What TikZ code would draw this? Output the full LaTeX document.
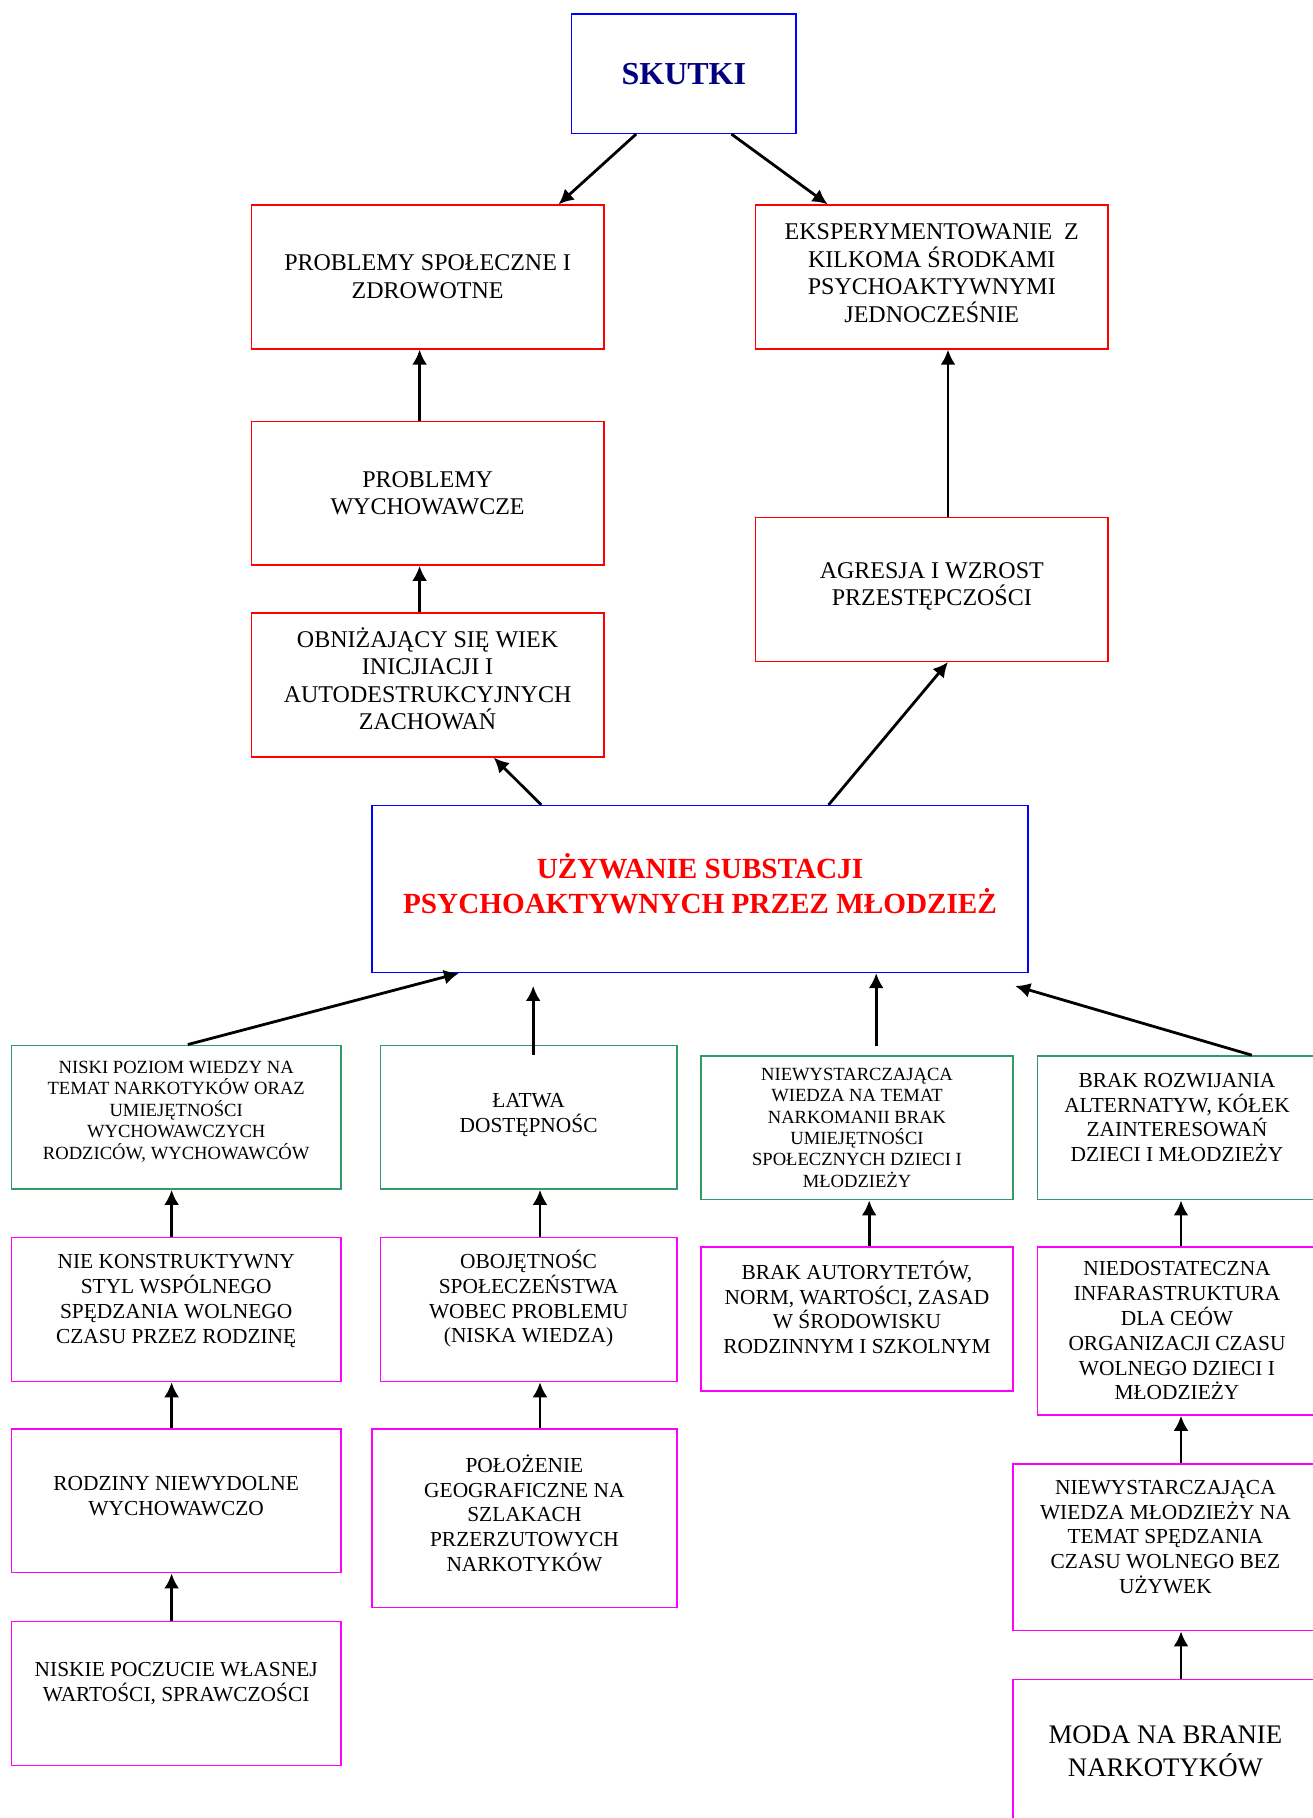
\documentclass[tikz,border=0pt]{standalone}
\usepackage{fontspec}
\setmainfont{Liberation Serif}
\usetikzlibrary{arrows.meta}
\definecolor{seagreen}{RGB}{51,153,102}
\definecolor{navyblue}{RGB}{0,0,128}
\definecolor{pinkline}{RGB}{255,0,255}
\definecolor{redline}{RGB}{255,0,0}
\definecolor{blueline}{RGB}{0,0,255}

\begin{document}
\begin{tikzpicture}[>={Latex[length=7.5pt,width=7.5pt]}]
       \tikzset{effect/.style={rectangle, draw=redline, line width=0.75pt, minimum width=176.2pt,
                minimum height=71.9pt, inner sep=2pt, align=center, font=\fontsize{12}{13.8}\selectfont}}

       \tikzset{core/.style={rectangle, draw=blueline, line width=0.75pt, inner sep=2pt, align=center}}

       \tikzset{cause/.style={rectangle, draw=seagreen, line width=0.75pt, minimum height=71.9pt,
                inner sep=2pt, align=center, font=\fontsize{10.7}{12.4}\selectfont}}
       \tikzset{root/.style={cause, draw=pinkline}}
       \tikzset{small/.style={font=\fontsize{9.3}{10.7}\selectfont}}
       \tikzset{link/.style={->, line width=1.4pt}}

        \useasboundingbox (0,0) rectangle (656pt,-909pt);

        \node[core, minimum width=112.4pt, minimum height=59.7pt, text=navyblue,
              font=\fontsize{16}{19}\selectfont\bfseries] (skutki) at (341.9pt,-36.8pt) {SKUTKI};
        \node[effect] (spoleczne) at (213.8pt,-138.5pt) {PROBLEMY SPOŁECZNE I\\ZDROWOTNE};
        \node[effect, text depth=4pt] (eksperyment) at (465.9pt,-138.5pt) {EKSPERYMENTOWANIE\ \ Z\\KILKOMA ŚRODKAMI\\PSYCHOAKTYWNYMI\\JEDNOCZEŚNIE};
        \node[effect, node distance=108.1pt, below of=spoleczne] (wychowawcze) {PROBLEMY\\WYCHOWAWCZE};
        \node[effect, text depth=6.4pt, node distance=95.9pt, below of=wychowawcze] (wiek) {OBNIŻAJĄCY SIĘ WIEK\\INICJIACJI I\\AUTODESTRUKCYJNYCH\\ZACHOWAŃ};
        \node[effect, text depth=5.2pt, node distance=156.2pt, below of=eksperyment] (agresja) {AGRESJA I WZROST\\PRZESTĘPCZOŚCI};
        \node[core, minimum width=328pt, minimum height=83.4pt, text=redline, text depth=5.8pt,
              font=\fontsize{14.6}{17.4}\selectfont\bfseries] (uzywanie) at (350pt,-444.5pt) {UŻYWANIE SUBSTACJI\\PSYCHOAKTYWNYCH PRZEZ MŁODZIEŻ};

        % przyczyny
        \node[cause, small, minimum width=164.6pt, text depth=7.1pt] (wiedza) at (88.1pt,-558.6pt) {NISKI POZIOM WIEDZY NA\\TEMAT NARKOTYKÓW ORAZ\\UMIEJĘTNOŚCI\\WYCHOWAWCZYCH\\RODZICÓW, WYCHOWAWCÓW};
        \node[cause, minimum width=148.3pt, text depth=4.5pt] (dostepnosc) at (264.3pt,-558.6pt) {ŁATWA\\DOSTĘPNOŚC};
        \node[cause, small, minimum width=155.9pt] (narkomania) at (428.5pt,-563.9pt) {NIEWYSTARCZAJĄCA\\WIEDZA NA TEMAT\\NARKOMANII BRAK\\UMIEJĘTNOŚCI\\SPOŁECZNYCH DZIECI I\\MŁODZIEŻY};
        \node[cause, minimum width=139.7pt, text depth=10.4pt] (alternatywy) at (588.5pt,-563.9pt) {BRAK ROZWIJANIA\\ALTERNATYW, KÓŁEK\\ZAINTERESOWAŃ\\DZIECI I MŁODZIEŻY};

        \node[root, minimum width=164.6pt, text depth=10.7pt, node distance=96.2pt, below of=wiedza] (styl) {NIE KONSTRUKTYWNY\\STYL WSPÓLNEGO\\SPĘDZANIA WOLNEGO\\CZASU PRZEZ RODZINĘ};
        \node[root, minimum width=164.6pt, text depth=4.6pt, node distance=95.6pt, below of=styl] (rodziny) {RODZINY NIEWYDOLNE\\WYCHOWAWCZO};
        \node[root, minimum width=164.6pt, text depth=11.3pt, node distance=96.3pt, below of=rodziny] (poczucie) {NISKIE POCZUCIE WŁASNEJ\\WARTOŚCI, SPRAWCZOŚCI};
        \node[root, minimum width=148.3pt, text depth=13.1pt, node distance=96.2pt, below of=dostepnosc] (obojetnosc) {OBOJĘTNOŚC\\SPOŁECZEŃSTWA\\WOBEC PROBLEMU\\(NISKA WIEDZA)};
        \node[root, minimum width=152.4pt, minimum height=89.2pt, text depth=5.2pt, node distance=104.3pt, below of=obojetnosc, xshift=-2.1pt] (polozenie) {POŁOŻENIE\\GEOGRAFICZNE NA\\SZLAKACH\\PRZERZUTOWYCH\\NARKOTYKÓW};
        \node[root, minimum width=155.9pt, text depth=11.6pt, node distance=95.6pt, below of=narkomania] (autorytety) {BRAK AUTORYTETÓW,\\NORM, WARTOŚCI, ZASAD\\W ŚRODOWISKU\\RODZINNYM I SZKOLNYM};
        \node[root, minimum width=139.7pt, minimum height=84pt, node distance=101.6pt, below of=alternatywy] (infrastruktura) {NIEDOSTATECZNA\\INFARASTRUKTURA\\DLA CEÓW\\ORGANIZACJI CZASU\\WOLNEGO DZIECI I\\MŁODZIEŻY};
        \node[root, minimum width=152.4pt, minimum height=83.4pt, text depth=10.4pt, node distance=108.1pt, below of=infrastruktura, xshift=-5.8pt] (czas) {NIEWYSTARCZAJĄCA\\WIEDZA MŁODZIEŻY NA\\TEMAT SPĘDZANIA\\CZASU WOLNEGO BEZ\\UŻYWEK};
        \node[root, minimum width=152.4pt, node distance=102pt, below of=czas,
              font=\fontsize{13.4}{16.2}\selectfont] (moda) {MODA NA BRANIE\\NARKOTYKÓW};

        \draw[link] ([xshift=-23.8pt]skutki.south) -- ([xshift=65.5pt]spoleczne.north);
        \draw[link] ([xshift=23.8pt]skutki.south) -- ([xshift=-52.1pt]eksperyment.north);
        \draw[link] ([xshift=-4pt]wychowawcze.north) -- ([xshift=-4pt]spoleczne.south);
        \draw[link] ([xshift=-4pt]wiek.north) -- ([xshift=-4pt]wychowawcze.south);
        \draw[link] ([xshift=8.1pt]agresja.north) -- ([xshift=8.1pt]eksperyment.south);
        \draw[link] ([xshift=-79.4pt]uzywanie.north) -- ([xshift=33.1pt]wiek.south);
        \draw[link] ([xshift=64.3pt]uzywanie.north) -- ([xshift=8.1pt]agresja.south);

        \draw[link] ([xshift=5.8pt]wiedza.north) -- ([xshift=-120.5pt]uzywanie.south);
        \draw[link] ([xshift=2.3pt,yshift=-5.2pt]dostepnosc.north) -- ([xshift=-83.4pt,yshift=-6.4pt]uzywanie.south);
        \draw[link] ([xshift=9.6pt,yshift=4.6pt]narkomania.north) -- ([xshift=88.1pt]uzywanie.south);
        \draw[link] ([xshift=37.4pt]alternatywy.north) -- ([xshift=157.6pt,yshift=-6.4pt]uzywanie.south);

        \draw[link] ([xshift=-2.3pt]styl.north) -- ([xshift=-2.3pt]wiedza.south);
        \draw[link] ([xshift=-2.3pt]rodziny.north) -- ([xshift=-2.3pt]styl.south);
        \draw[link] ([xshift=-2.3pt]poczucie.north) -- ([xshift=-2.3pt]rodziny.south);
        \draw[link] ([xshift=5.7pt]obojetnosc.north) -- ([xshift=5.7pt]dostepnosc.south);
        \draw[link] ([xshift=7.8pt]polozenie.north) -- ([xshift=5.7pt]obojetnosc.south);
        \draw[link] ([xshift=6.1pt]autorytety.north) -- ([xshift=6.1pt]narkomania.south);
        \draw[link] ([xshift=2pt]infrastruktura.north) -- ([xshift=2pt]alternatywy.south);
        \draw[link] ([xshift=7.8pt]czas.north) -- ([xshift=2pt]infrastruktura.south);
        \draw[link] ([xshift=7.8pt]moda.north) -- ([xshift=7.8pt]czas.south);

\end{tikzpicture}
\end{document}
